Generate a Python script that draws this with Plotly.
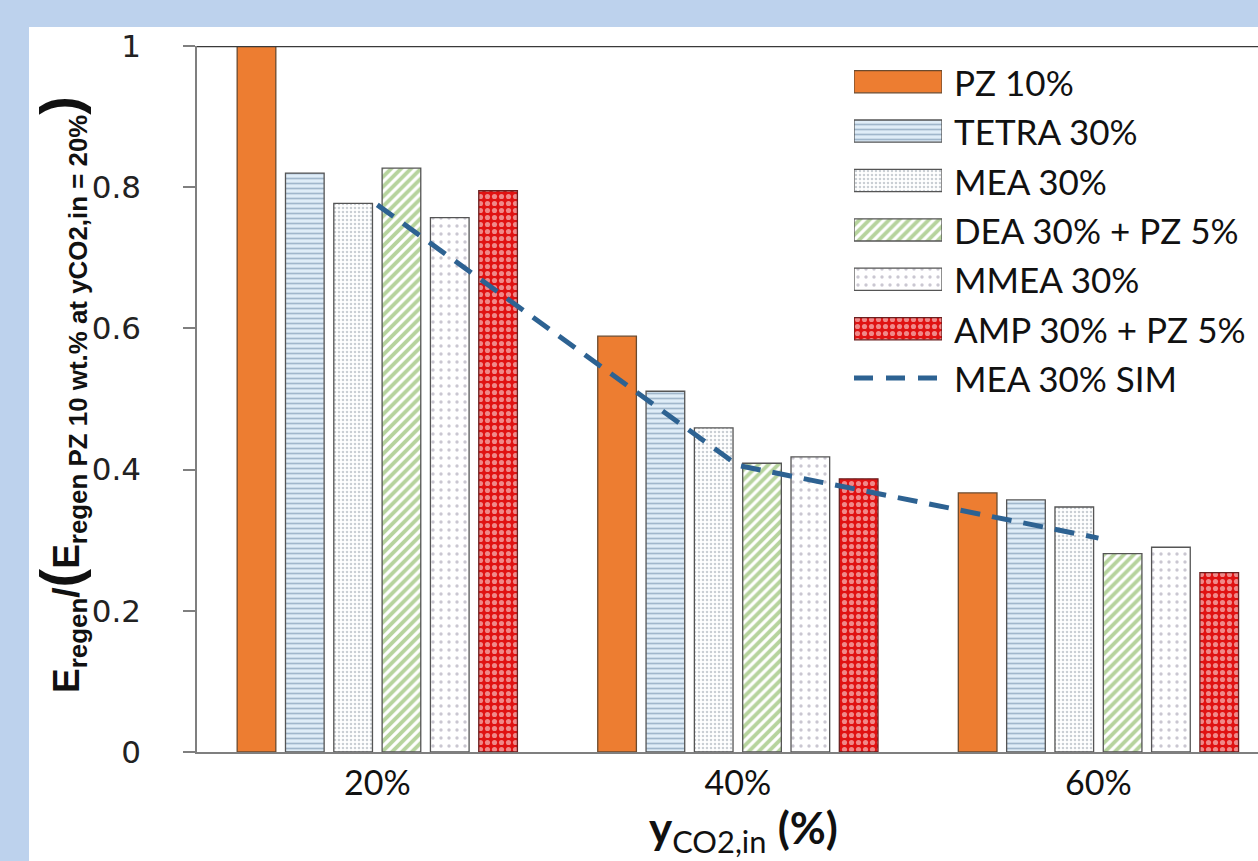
import plotly.graph_objects as go

# ---------------- data ----------------
categories = ["20%", "40%", "60%"]
co2_in = [20, 40, 60]

series_names = ["PZ 10%", "TETRA 30%", "MEA 30%", "DEA 30% + PZ 5%", "MMEA 30%", "AMP 30% + PZ 5%"]
pz10 = [1.000, 0.589, 0.367]
tetra30 = [0.820, 0.511, 0.357]
mea30 = [0.777, 0.459, 0.347]
dea30_pz5 = [0.827, 0.409, 0.281]
mmea30 = [0.757, 0.418, 0.290]
amp30_pz5 = [0.795, 0.387, 0.254]
series_values = [pz10, tetra30, mea30, dea30_pz5, mmea30, amp30_pz5]

sim_name = "MEA 30% SIM"
sim_x = [20, 40, 60]
mea30_sim = [0.775, 0.406, 0.303]

y_ticks = [0, 0.2, 0.4, 0.6, 0.8, 1]
y_ticklabels = ["0", "0.2", "0.4", "0.6", "0.8", "1"]

# ---------------- styles ----------------
W, H = 1258, 861
L, T, B = 197, 46, 109
PW, PH = W - L, H - T - B

outline = dict(color="#555555", width=1.3)
styles = [
    dict(color="#ED7D31", line=dict(color="#6b4a2e", width=1.3)),
    dict(color="#ffffff", line=outline,
         pattern=dict(shape="-", bgcolor="#dfedf8", fgcolor="#62829f", size=5, solidity=0.34)),
    dict(color="#ffffff", line=outline,
         pattern=dict(shape=".", bgcolor="#ffffff", fgcolor="#939da8", size=4, solidity=0.32)),
    dict(color="#ffffff", line=outline,
         pattern=dict(shape="/", bgcolor="#ffffff", fgcolor="#6da83c", size=7, solidity=0.55)),
    dict(color="#ffffff", line=outline,
         pattern=dict(shape=".", bgcolor="#ffffff", fgcolor="#958fa3", size=8, solidity=0.14)),
    dict(color="#ffffff", line=dict(color="#6a2020", width=1.3),
         pattern=dict(shape=".", bgcolor="#e01212", fgcolor="#ffffff", size=7, solidity=0.42)),
]
line_color = "#2d6292"

fig = go.Figure()

# main bars
for name, vals, st in zip(series_names, series_values, styles):
    fig.add_trace(go.Bar(x=co2_in, y=vals, name=name, marker=st, showlegend=False))

# simulated line
fig.add_trace(go.Scatter(x=sim_x, y=mea30_sim, mode="lines", name=sim_name, showlegend=False,
                         line=dict(color=line_color, width=5, dash="20px,12px")))

# ---------------- manual legend (own axes) ----------------
def px_x(p):
    return (p - L) / PW

def px_y(p):
    return (H - B - p) / PH

rows = list(range(len(series_names) + 1))
for i, (name, st) in enumerate(zip(series_names, styles)):
    fig.add_trace(go.Bar(x=[1], y=[rows[i]], base=0, orientation="h", width=0.45, offset=-0.225,
                         marker=st, xaxis="x3", yaxis="y3", showlegend=False, hoverinfo="skip"))
fig.add_trace(go.Scatter(x=[0, 0.95], y=[rows[-1], rows[-1]], mode="lines", xaxis="x3", yaxis="y3",
                         showlegend=False, hoverinfo="skip",
                         line=dict(color=line_color, width=5, dash="19px,13px")))

legend_names = series_names + [sim_name]
annotations = []
for i, name in enumerate(legend_names):
    annotations.append(dict(text=name, x=px_x(952), xref="paper", y=rows[i], yref="y3",
                            xanchor="left", yanchor="middle", showarrow=False,
                            font=dict(family="Lato", size=35, color="#111111")))

# axis titles
annotations.append(dict(
    text="<b>y</b><sub>CO2,in</sub> <b>(%)</b>",
    x=px_x(743), y=px_y(830), xref="paper", yref="paper", xanchor="center", yanchor="middle",
    showarrow=False, font=dict(family="Lato", size=44, color="#111111")))
annotations.append(dict(
    text="<b>E<sub>regen</sub>/<span style='font-size:56px'>(</span>E<sub>regen PZ 10 wt.% at yCO2,in = 20%</sub><span style='font-size:56px'>)</span></b>",
    x=px_x(60), y=px_y(395), xref="paper", yref="paper", xanchor="center", yanchor="middle",
    textangle=-90, showarrow=False,
    font=dict(family="Liberation Sans Narrow, Liberation Sans", size=37, color="#111111")))

shapes = [
    # white card over blue frame
    dict(type="rect", xref="paper", yref="paper", x0=px_x(29), x1=1.0, y0=px_y(H), y1=px_y(27),
         fillcolor="white", line=dict(width=0), layer="below"),
    # top border of the plot area
    dict(type="line", xref="paper", yref="y", x0=0, x1=1, y0=1, y1=1,
         line=dict(color="#3a3a3a", width=2.5)),
]

fig.update_layout(
    width=W, height=H,
    margin=dict(l=L, r=0, t=T, b=B, pad=0),
    paper_bgcolor="#bdd2ed", plot_bgcolor="white",
    barmode="group", bargap=0.196, bargroupgap=0.2,
    showlegend=False,
    annotations=annotations, shapes=shapes,
    xaxis=dict(range=[10, 68.85], tickvals=co2_in, ticktext=categories, showgrid=False, zeroline=False,
               showline=True, linecolor="#7f7f7f", linewidth=1.5, ticks="",
               tickfont=dict(family="Lato", size=34, color="#111111")),
    yaxis=dict(range=[0, 1], tickvals=y_ticks, ticktext=y_ticklabels, showgrid=False, zeroline=False,
               showline=True, linecolor="#7f7f7f", linewidth=1.5, ticks="outside", ticklen=12,
               tickcolor="#7f7f7f", tickwidth=1.5, ticklabelstandoff=36,
               tickfont=dict(family="DejaVu Sans", size=31, color="#222222")),
    xaxis3=dict(domain=[px_x(854), px_x(942)], range=[0, 1], visible=False, fixedrange=True),
    yaxis3=dict(domain=[px_y(81.7 + 6 * 49.4 + 24.7), px_y(81.7 - 24.7)],
                range=[6.5, -0.5], visible=False, fixedrange=True),
)

fig.write_html(
    "out.html",
    config={"displayModeBar": False},
    post_script="document.body.style.margin='0';document.body.style.overflow='hidden';"
                "document.documentElement.style.overflow='hidden';",
)
